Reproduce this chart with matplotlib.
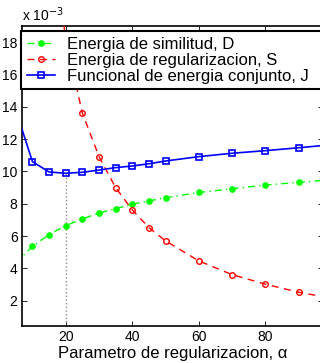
import numpy as np
import matplotlib
matplotlib.use("Agg")
import matplotlib.pyplot as plt

plt.rcParams["font.family"] = ["Liberation Sans", "DejaVu Sans"]

# valores en unidades de 1e-3
alpha = [5, 10, 15, 20, 25, 30, 35, 40, 45, 50, 60, 70, 80, 90, 100]
D = [4.33, 5.36, 6.09, 6.65, 7.06, 7.43, 7.70, 7.97, 8.18, 8.37, 8.70, 8.93, 9.16, 9.33, 9.49]
S = [110.0, 45.0, 26.0, 18.2, 13.62, 10.92, 9.00, 7.62, 6.52, 5.70, 4.46, 3.61, 3.02, 2.52, 2.15]
J = [13.8, 10.61, 9.97, 9.89, 9.95, 10.09, 10.24, 10.34, 10.48, 10.65, 10.92, 11.13, 11.29, 11.47, 11.66]
alpha_opt = 20
labels = ["Energia de similitud, D", "Energia de regularizacion, S",
          "Funcional de energia conjunto, J"]

W, H = 320, 363
fig = plt.figure(figsize=(W / 100, H / 100), dpi=100)
ax = fig.add_axes([21.7 / W, 1 - 326 / H, (323 - 21.7) / W, (326 - 25.7) / H])

ax.plot(alpha, D, color=(0, 1, 0), ls=(0, (5, 3, 1, 3)), lw=1.0, marker="o",
        ms=3.8, mfc=(0, 1, 0), mec=(0, 1, 0), label=labels[0], zorder=3)
ax.plot(alpha, S, color=(1, 0, 0), ls=(0, (5, 4)), lw=1.0, marker="o",
        ms=4.0, mfc="none", mec=(1, 0, 0), mew=1.0, label=labels[1], zorder=3)
ax.plot(alpha, J, color=(0, 0, 1), ls="-", lw=1.2, marker="s",
        ms=3.8, mfc="none", mec=(0, 0, 1), mew=1.2, label=labels[2], zorder=3)

ymin, ymax = 0.43, 19.03
i_opt = alpha.index(alpha_opt)
ax.plot([alpha_opt, alpha_opt], [ymin, J[i_opt]], color="0.55", ls=":", lw=1.0, zorder=2)

ax.set_xlim(6.77, 97.3)
ax.set_ylim(ymin, ymax)
ax.set_xticks([20, 40, 60, 80])
ax.set_yticks(np.arange(2, 19, 2))
ax.tick_params(direction="in", top=True, right=True, length=3.5, width=0.6,
               labelsize=10, pad=3)
for sp in ax.spines.values():
    sp.set_linewidth(1.2)
ax.set_xlabel("Parametro de regularizacion, \u03b1", fontsize=12, labelpad=1)

fig.text(21.5 / W, 1 - 21.5 / H, r"x 10$^{-3}$", fontsize=10, ha="left", va="baseline")

# la leyenda se sale por la derecha como en la figura original
leg = ax.legend(loc="upper left", bbox_to_anchor=(-0.002, 0.982, 1.05, 0), mode="expand",
                fontsize=12, frameon=True, fancybox=False, framealpha=1, borderaxespad=0,
                handlelength=1.7, handletextpad=0.72, labelspacing=0.05,
                borderpad=0.35)
leg.get_frame().set_edgecolor("black")
leg.get_frame().set_linewidth(1.5)
leg.set_zorder(5)

fig.savefig("out.png", dpi=100)
